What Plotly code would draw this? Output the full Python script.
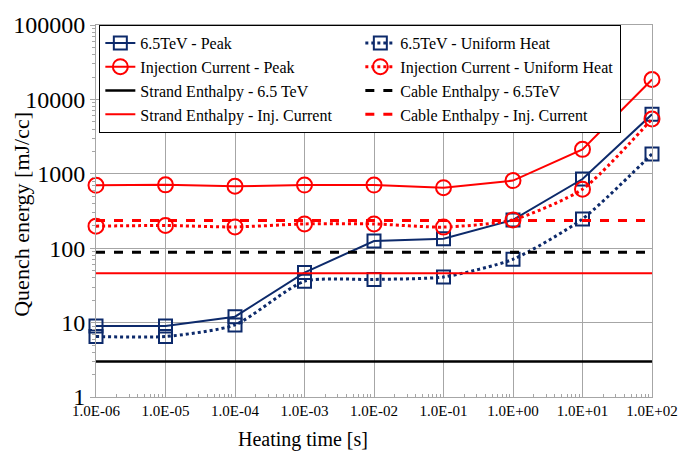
import plotly.graph_objects as go

# Heating time [s]
heating_time = [1e-6, 1e-5, 1e-4, 1e-3, 1e-2, 1e-1, 1e0, 1e1, 1e2]
x_tick_labels = ["1.0E-06", "1.0E-05", "1.0E-04", "1.0E-03", "1.0E-02",
                 "1.0E-01", "1.0E+00", "1.0E+01", "1.0E+02"]
y_tick_vals = [1, 10, 100, 1000, 10000, 100000]
y_tick_labels = ["1", "10", "100", "1000", "10000", "100000"]

# Quench energy [mJ/cc]
peak_65tev = [9, 9, 12, 47, 125, 134, 240, 850, 6300]
uniform_65tev = [6.5, 6.5, 9.3, 36, 38, 41, 71, 247, 1850]
peak_injection = [700, 710, 680, 705, 705, 650, 810, 2130, 18500]
uniform_injection = [198, 202, 193, 212, 212, 192, 240, 620, 5450]

# Enthalpy reference levels [mJ/cc]
strand_enthalpy_65tev = 3.0
cable_enthalpy_65tev = 88
strand_enthalpy_inj = 46
cable_enthalpy_inj = 236

NAVY = "#0d2a6b"
RED = "#ff0000"
BLACK = "#000000"
GRID = "#a6a6a6"
FONT = "Liberation Serif"

x_span = [heating_time[0], heating_time[-1]]

fig = go.Figure()

fig.add_trace(go.Scatter(
    x=heating_time, y=peak_65tev, name="6.5TeV - Peak", mode="lines+markers",
    line=dict(color=NAVY, width=2),
    marker=dict(symbol="square-open", size=13, color=NAVY, line=dict(width=2)),
    cliponaxis=False))
fig.add_trace(go.Scatter(
    x=heating_time, y=uniform_65tev, name="6.5TeV - Uniform Heat", mode="lines+markers",
    line=dict(color=NAVY, width=3, dash="dot", shape="spline", smoothing=0.6),
    marker=dict(symbol="square-open", size=13, color=NAVY, line=dict(width=2)),
    cliponaxis=False))
fig.add_trace(go.Scatter(
    x=heating_time, y=peak_injection, name="Injection Current - Peak", mode="lines+markers",
    line=dict(color=RED, width=2),
    marker=dict(symbol="circle-open", size=15, color=RED, line=dict(width=2)),
    cliponaxis=False))
fig.add_trace(go.Scatter(
    x=heating_time, y=uniform_injection, name="Injection Current - Uniform Heat",
    mode="lines+markers",
    line=dict(color=RED, width=3, dash="dot", shape="spline", smoothing=0.6),
    marker=dict(symbol="circle-open", size=15, color=RED, line=dict(width=2)),
    cliponaxis=False))
fig.add_trace(go.Scatter(
    x=x_span, y=[strand_enthalpy_65tev] * 2, name="Strand Enthalpy - 6.5 TeV",
    mode="lines", line=dict(color=BLACK, width=2.5)))
fig.add_trace(go.Scatter(
    x=x_span, y=[cable_enthalpy_65tev] * 2, name="Cable Enthalpy - 6.5TeV",
    mode="lines", line=dict(color=BLACK, width=3, dash="dash")))
fig.add_trace(go.Scatter(
    x=x_span, y=[strand_enthalpy_inj] * 2, name="Strand Enthalpy - Inj. Current",
    mode="lines", line=dict(color=RED, width=2)))
fig.add_trace(go.Scatter(
    x=x_span, y=[cable_enthalpy_inj] * 2, name="Cable Enthalpy - Inj. Current",
    mode="lines", line=dict(color=RED, width=3, dash="dash")))

# minor tick positions inside each decade of a log axis
def decade_minors(lo, hi):
    return [k * 10.0 ** e for e in range(lo, hi) for k in range(2, 10)]

fig.update_xaxes(
    type="log", range=[-6, 2],
    tickmode="array", tickvals=heating_time, ticktext=x_tick_labels,
    ticks="inside", ticklen=6, tickcolor=GRID,
    minor=dict(ticks="inside", ticklen=3, tickcolor=GRID, showgrid=False,
               tickmode="array", tickvals=decade_minors(-6, 2)),
    showgrid=True, gridcolor=GRID, gridwidth=1,
    showline=True, linecolor=GRID, linewidth=1, mirror=True,
    tickfont=dict(family=FONT, size=15, color=BLACK),
    zeroline=False)
fig.update_yaxes(
    type="log", range=[0, 5],
    tickmode="array", tickvals=y_tick_vals, ticktext=y_tick_labels,
    ticks="outside", ticklen=5, tickcolor=GRID,
    minor=dict(ticks="outside", ticklen=3, tickcolor=GRID, showgrid=False,
               tickmode="array", tickvals=decade_minors(0, 5)),
    showgrid=True, gridcolor=GRID, gridwidth=1,
    showline=True, linecolor=GRID, linewidth=1, mirror=True,
    tickfont=dict(family=FONT, size=24, color=BLACK),
    zeroline=False)

fig.add_annotation(
    text="Heating time [s]", xref="paper", yref="paper",
    x=0.373, y=-0.115, xanchor="center", yanchor="middle", showarrow=False,
    font=dict(family=FONT, size=20, color=BLACK))
fig.add_annotation(
    text="Quench energy [mJ/cc]", xref="paper", yref="paper",
    x=-0.133, y=0.49, xanchor="center", yanchor="middle", showarrow=False,
    textangle=-90, font=dict(family=FONT, size=22, color=BLACK))

fig.update_layout(
    width=690, height=454,
    margin=dict(l=96, r=28, t=24, b=57),
    paper_bgcolor="white", plot_bgcolor="white",
    font=dict(family=FONT, color=BLACK),
    legend=dict(
        orientation="h", entrywidth=215, entrywidthmode="pixels",
        x=0.006, y=1.0, xanchor="left", yanchor="top",
        bgcolor="white", bordercolor=BLACK, borderwidth=1,
        font=dict(family=FONT, size=16, color=BLACK),
        itemwidth=30, tracegroupgap=0),
)

fig.write_html("out.html")
